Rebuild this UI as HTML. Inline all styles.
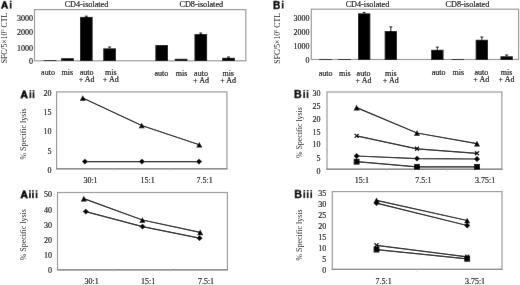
<!DOCTYPE html>
<html><head><meta charset="utf-8"><title>Figure</title>
<style>
html,body{margin:0;padding:0;background:#fff;}
body{width:520px;height:285px;overflow:hidden;font-family:"Liberation Serif",serif;}
svg{display:block;}
</style></head>
<body>
<svg width="520" height="285" viewBox="0 0 520 285">
<defs><filter id="bl" x="0" y="0" width="520" height="285" filterUnits="userSpaceOnUse"><feConvolveMatrix order="3" kernelMatrix="0 1 0 1 24 1 0 1 0" edgeMode="duplicate"/></filter></defs>
<g filter="url(#bl)">
<rect x="0" y="0" width="520" height="285" fill="#fff"/>
<path d="M1.04,8.50L3.66,1.18L5.50,1.18L8.12,8.50L6.25,8.50L5.78,6.97L3.39,6.97L2.91,8.50ZM3.86,5.64L5.31,5.64L4.58,3.40Z" fill="#000" fill-rule="evenodd" stroke="#000" stroke-width="0.3" stroke-linejoin="round"/>
<rect x="9.8" y="0.7" width="1.7" height="1.3" fill="#000"/>
<rect x="9.8" y="2.7" width="1.7" height="5.8" fill="#000"/>
<text x="273.1" y="8.5" font-size="10.2" text-anchor="start" font-family='"Liberation Sans", sans-serif' font-weight="bold" fill="#000" stroke="#000" stroke-width="0.35" >B</text>
<rect x="281.8" y="0.7" width="1.7" height="1.3" fill="#000"/>
<rect x="281.8" y="2.7" width="1.7" height="5.8" fill="#000"/>
<path d="M20.45,98.30L23.20,90.62L25.13,90.62L27.88,98.30L25.92,98.30L25.41,96.69L22.91,96.69L22.41,98.30ZM23.40,95.30L24.92,95.30L24.16,92.95Z" fill="#000" fill-rule="evenodd" stroke="#000" stroke-width="0.3" stroke-linejoin="round"/>
<rect x="29.55" y="90.1" width="1.7" height="1.4" fill="#000"/>
<rect x="29.55" y="92.3" width="1.7" height="5.9" fill="#000"/>
<rect x="32.65" y="90.1" width="1.7" height="1.4" fill="#000"/>
<rect x="32.65" y="92.3" width="1.7" height="5.9" fill="#000"/>
<path d="M20.45,198.30L23.20,190.62L25.13,190.62L27.88,198.30L25.92,198.30L25.41,196.70L22.91,196.70L22.41,198.30ZM23.40,195.30L24.92,195.30L24.16,192.95Z" fill="#000" fill-rule="evenodd" stroke="#000" stroke-width="0.3" stroke-linejoin="round"/>
<rect x="29.1" y="190.2" width="1.7" height="1.4" fill="#000"/>
<rect x="29.1" y="192.5" width="1.7" height="5.7" fill="#000"/>
<rect x="32.1" y="190.2" width="1.7" height="1.4" fill="#000"/>
<rect x="32.1" y="192.5" width="1.7" height="5.7" fill="#000"/>
<rect x="35.7" y="190.2" width="1.7" height="1.4" fill="#000"/>
<rect x="35.7" y="192.5" width="1.7" height="5.7" fill="#000"/>
<text x="294.1" y="98.1" font-size="10.7" text-anchor="start" font-family='"Liberation Sans", sans-serif' font-weight="bold" fill="#000" stroke="#000" stroke-width="0.35" >B</text>
<rect x="303.35" y="89.9" width="1.7" height="1.4" fill="#000"/>
<rect x="303.35" y="92.1" width="1.7" height="6.0" fill="#000"/>
<rect x="306.65" y="89.9" width="1.7" height="1.4" fill="#000"/>
<rect x="306.65" y="92.1" width="1.7" height="6.0" fill="#000"/>
<text x="294.3" y="198.2" font-size="10.7" text-anchor="start" font-family='"Liberation Sans", sans-serif' font-weight="bold" fill="#000" stroke="#000" stroke-width="0.35" >B</text>
<rect x="303.45" y="190.0" width="1.7" height="1.4" fill="#000"/>
<rect x="303.45" y="192.3" width="1.7" height="5.8" fill="#000"/>
<rect x="306.8" y="190.0" width="1.7" height="1.4" fill="#000"/>
<rect x="306.8" y="192.3" width="1.7" height="5.8" fill="#000"/>
<rect x="310.4" y="190.0" width="1.7" height="1.4" fill="#000"/>
<rect x="310.4" y="192.3" width="1.7" height="5.8" fill="#000"/>
<rect x="34.5" y="9.6" width="211.3" height="51.199999999999996" fill="none" stroke="#9a9a9a" stroke-width="1.2"/>
<text x="86.5" y="6.6" font-size="8.2" text-anchor="middle" font-family='"Liberation Serif", serif' font-weight="normal" fill="#000" stroke="#000" stroke-width="0.15" >CD4-isolated</text>
<text x="201.3" y="6.6" font-size="8.2" text-anchor="middle" font-family='"Liberation Serif", serif' font-weight="normal" fill="#000" stroke="#000" stroke-width="0.15" >CD8-isolated</text>
<text x="32.9" y="20.75" font-size="8" text-anchor="end" font-family='"Liberation Serif", serif' font-weight="normal" fill="#000" stroke="#000" stroke-width="0.15" >3000</text>
<text x="32.9" y="35.0" font-size="8" text-anchor="end" font-family='"Liberation Serif", serif' font-weight="normal" fill="#000" stroke="#000" stroke-width="0.15" >2000</text>
<text x="32.9" y="51.0" font-size="8" text-anchor="end" font-family='"Liberation Serif", serif' font-weight="normal" fill="#000" stroke="#000" stroke-width="0.15" >1000</text>
<text x="32.9" y="63.5" font-size="8" text-anchor="end" font-family='"Liberation Serif", serif' font-weight="normal" fill="#000" stroke="#000" stroke-width="0.15" >0</text>
<text transform="translate(6.6,38.1) rotate(-90)" x="0" y="0" font-size="7.8" text-anchor="middle" font-family='"Liberation Serif", serif' fill="#000" stroke="#000" stroke-width="0" textLength="50.5" lengthAdjust="spacingAndGlyphs">SFC/5×10<tspan font-size="4.5" dy="-2.5">5</tspan><tspan dy="2.5"> CTL</tspan></text>
<rect x="43.7" y="60.1" width="12.6" height="0.8999999999999986" fill="#000"/>
<rect x="61.2" y="58.2" width="12.6" height="2.799999999999997" fill="#000"/>
<rect x="80.0" y="16.9" width="12.6" height="44.1" fill="#000"/>
<line x1="86.3" y1="16.2" x2="86.3" y2="16.9" stroke="#000" stroke-width="0.9"/>
<line x1="84.8" y1="16.2" x2="87.8" y2="16.2" stroke="#000" stroke-width="0.9"/>
<rect x="103.3" y="48.4" width="12.6" height="12.600000000000001" fill="#000"/>
<line x1="109.6" y1="47.0" x2="109.6" y2="48.4" stroke="#000" stroke-width="0.9"/>
<line x1="108.1" y1="47.0" x2="111.1" y2="47.0" stroke="#000" stroke-width="0.9"/>
<rect x="155.4" y="45.0" width="12.6" height="16.0" fill="#000"/>
<rect x="174.8" y="58.8" width="12.6" height="2.200000000000003" fill="#000"/>
<rect x="194.5" y="34.0" width="12.6" height="27.0" fill="#000"/>
<line x1="200.8" y1="33.0" x2="200.8" y2="34.0" stroke="#000" stroke-width="0.9"/>
<line x1="199.3" y1="33.0" x2="202.3" y2="33.0" stroke="#000" stroke-width="0.9"/>
<rect x="222.2" y="57.8" width="12.6" height="3.200000000000003" fill="#000"/>
<line x1="228.5" y1="57.0" x2="228.5" y2="57.8" stroke="#000" stroke-width="0.9"/>
<line x1="227.0" y1="57.0" x2="230.0" y2="57.0" stroke="#000" stroke-width="0.9"/>
<text x="48.0" y="75" font-size="8" text-anchor="middle" font-family='"Liberation Serif", serif' font-weight="normal" fill="#000" stroke="#000" stroke-width="0.15" >auto</text>
<text x="67.3" y="75" font-size="8" text-anchor="middle" font-family='"Liberation Serif", serif' font-weight="normal" fill="#000" stroke="#000" stroke-width="0.15" >mis</text>
<text x="86.6" y="75" font-size="8" text-anchor="middle" font-family='"Liberation Serif", serif' font-weight="normal" fill="#000" stroke="#000" stroke-width="0.15" >auto</text>
<text x="86.6" y="82" font-size="8" text-anchor="middle" font-family='"Liberation Serif", serif' font-weight="normal" fill="#000" stroke="#000" stroke-width="0.15" >+ Ad</text>
<text x="110.8" y="75" font-size="8" text-anchor="middle" font-family='"Liberation Serif", serif' font-weight="normal" fill="#000" stroke="#000" stroke-width="0.15" >mis</text>
<text x="110.8" y="82" font-size="8" text-anchor="middle" font-family='"Liberation Serif", serif' font-weight="normal" fill="#000" stroke="#000" stroke-width="0.15" >+ Ad</text>
<text x="161.4" y="76" font-size="8" text-anchor="middle" font-family='"Liberation Serif", serif' font-weight="normal" fill="#000" stroke="#000" stroke-width="0.15" >auto</text>
<text x="181.5" y="76" font-size="8" text-anchor="middle" font-family='"Liberation Serif", serif' font-weight="normal" fill="#000" stroke="#000" stroke-width="0.15" >mis</text>
<text x="201.0" y="76" font-size="8" text-anchor="middle" font-family='"Liberation Serif", serif' font-weight="normal" fill="#000" stroke="#000" stroke-width="0.15" >auto</text>
<text x="201.0" y="83" font-size="8" text-anchor="middle" font-family='"Liberation Serif", serif' font-weight="normal" fill="#000" stroke="#000" stroke-width="0.15" >+ Ad</text>
<text x="228.2" y="76" font-size="8" text-anchor="middle" font-family='"Liberation Serif", serif' font-weight="normal" fill="#000" stroke="#000" stroke-width="0.15" >mis</text>
<text x="228.2" y="83" font-size="8" text-anchor="middle" font-family='"Liberation Serif", serif' font-weight="normal" fill="#000" stroke="#000" stroke-width="0.15" >+ Ad</text>
<rect x="311.3" y="9.2" width="207.3" height="50.3" fill="none" stroke="#9a9a9a" stroke-width="1.2"/>
<text x="367.5" y="6.8" font-size="8.2" text-anchor="middle" font-family='"Liberation Serif", serif' font-weight="normal" fill="#000" stroke="#000" stroke-width="0.15" >CD4-isolated</text>
<text x="467.4" y="6.8" font-size="8.2" text-anchor="middle" font-family='"Liberation Serif", serif' font-weight="normal" fill="#000" stroke="#000" stroke-width="0.15" >CD8-isolated</text>
<text x="309.4" y="20.5" font-size="8" text-anchor="end" font-family='"Liberation Serif", serif' font-weight="normal" fill="#000" stroke="#000" stroke-width="0.15" >3000</text>
<text x="309.4" y="34.8" font-size="8" text-anchor="end" font-family='"Liberation Serif", serif' font-weight="normal" fill="#000" stroke="#000" stroke-width="0.15" >2000</text>
<text x="309.4" y="48.7" font-size="8" text-anchor="end" font-family='"Liberation Serif", serif' font-weight="normal" fill="#000" stroke="#000" stroke-width="0.15" >1000</text>
<text x="309.4" y="63.0" font-size="8" text-anchor="end" font-family='"Liberation Serif", serif' font-weight="normal" fill="#000" stroke="#000" stroke-width="0.15" >0</text>
<text transform="translate(279.9,38.4) rotate(-90)" x="0" y="0" font-size="7.8" text-anchor="middle" font-family='"Liberation Serif", serif' fill="#000" stroke="#000" stroke-width="0" textLength="50.5" lengthAdjust="spacingAndGlyphs">SFC/5×10<tspan font-size="4.5" dy="-2.5">5</tspan><tspan dy="2.5"> CTL</tspan></text>
<rect x="319.4" y="59.0" width="12.3" height="1.0" fill="#000"/>
<rect x="338.4" y="59.0" width="12.3" height="1.0" fill="#000"/>
<rect x="358.0" y="13.4" width="12.3" height="46.6" fill="#000"/>
<line x1="364.15" y1="12.4" x2="364.15" y2="13.4" stroke="#000" stroke-width="0.9"/>
<line x1="362.65" y1="12.4" x2="365.65" y2="12.4" stroke="#000" stroke-width="0.9"/>
<rect x="384.7" y="31.0" width="12.3" height="29.0" fill="#000"/>
<line x1="390.84999999999997" y1="26.9" x2="390.84999999999997" y2="31.0" stroke="#000" stroke-width="0.9"/>
<line x1="389.34999999999997" y1="26.9" x2="392.34999999999997" y2="26.9" stroke="#000" stroke-width="0.9"/>
<rect x="431.2" y="49.8" width="12.3" height="10.200000000000003" fill="#000"/>
<line x1="437.34999999999997" y1="47.1" x2="437.34999999999997" y2="49.8" stroke="#000" stroke-width="0.9"/>
<line x1="435.84999999999997" y1="47.1" x2="438.84999999999997" y2="47.1" stroke="#000" stroke-width="0.9"/>
<rect x="451.7" y="59.0" width="12.3" height="1.0" fill="#000"/>
<rect x="475.7" y="39.8" width="12.3" height="20.200000000000003" fill="#000"/>
<line x1="481.84999999999997" y1="37.0" x2="481.84999999999997" y2="39.8" stroke="#000" stroke-width="0.9"/>
<line x1="480.34999999999997" y1="37.0" x2="483.34999999999997" y2="37.0" stroke="#000" stroke-width="0.9"/>
<rect x="500.5" y="56.3" width="12.3" height="3.700000000000003" fill="#000"/>
<line x1="506.65" y1="55.0" x2="506.65" y2="56.3" stroke="#000" stroke-width="0.9"/>
<line x1="505.15" y1="55.0" x2="508.15" y2="55.0" stroke="#000" stroke-width="0.9"/>
<text x="325.7" y="76" font-size="8" text-anchor="middle" font-family='"Liberation Serif", serif' font-weight="normal" fill="#000" stroke="#000" stroke-width="0.15" >auto</text>
<text x="344.9" y="76" font-size="8" text-anchor="middle" font-family='"Liberation Serif", serif' font-weight="normal" fill="#000" stroke="#000" stroke-width="0.15" >mis</text>
<text x="363.5" y="76" font-size="8" text-anchor="middle" font-family='"Liberation Serif", serif' font-weight="normal" fill="#000" stroke="#000" stroke-width="0.15" >auto</text>
<text x="363.5" y="83" font-size="8" text-anchor="middle" font-family='"Liberation Serif", serif' font-weight="normal" fill="#000" stroke="#000" stroke-width="0.15" >+ Ad</text>
<text x="390.8" y="76" font-size="8" text-anchor="middle" font-family='"Liberation Serif", serif' font-weight="normal" fill="#000" stroke="#000" stroke-width="0.15" >mis</text>
<text x="390.8" y="83" font-size="8" text-anchor="middle" font-family='"Liberation Serif", serif' font-weight="normal" fill="#000" stroke="#000" stroke-width="0.15" >+ Ad</text>
<text x="438.7" y="75" font-size="8" text-anchor="middle" font-family='"Liberation Serif", serif' font-weight="normal" fill="#000" stroke="#000" stroke-width="0.15" >auto</text>
<text x="458.4" y="75" font-size="8" text-anchor="middle" font-family='"Liberation Serif", serif' font-weight="normal" fill="#000" stroke="#000" stroke-width="0.15" >mis</text>
<text x="481.3" y="75" font-size="8" text-anchor="middle" font-family='"Liberation Serif", serif' font-weight="normal" fill="#000" stroke="#000" stroke-width="0.15" >auto</text>
<text x="481.3" y="82" font-size="8" text-anchor="middle" font-family='"Liberation Serif", serif' font-weight="normal" fill="#000" stroke="#000" stroke-width="0.15" >+ Ad</text>
<text x="506.5" y="75" font-size="8" text-anchor="middle" font-family='"Liberation Serif", serif' font-weight="normal" fill="#000" stroke="#000" stroke-width="0.15" >mis</text>
<text x="506.5" y="82" font-size="8" text-anchor="middle" font-family='"Liberation Serif", serif' font-weight="normal" fill="#000" stroke="#000" stroke-width="0.15" >+ Ad</text>
<rect x="56.6" y="91.9" width="170.3" height="76.79999999999998" fill="none" stroke="#9a9a9a" stroke-width="1.2"/>
<line x1="56.0" y1="168.8" x2="227.5" y2="168.8" stroke="#8c8c8c" stroke-width="1.4"/>
<text x="51.5" y="95.7" font-size="8" text-anchor="end" font-family='"Liberation Serif", serif' font-weight="normal" fill="#000" stroke="#000" stroke-width="0.15" >20</text>
<text x="51.5" y="114.7" font-size="8" text-anchor="end" font-family='"Liberation Serif", serif' font-weight="normal" fill="#000" stroke="#000" stroke-width="0.15" >15</text>
<text x="51.5" y="133.9" font-size="8" text-anchor="end" font-family='"Liberation Serif", serif' font-weight="normal" fill="#000" stroke="#000" stroke-width="0.15" >10</text>
<text x="51.5" y="153.7" font-size="8" text-anchor="end" font-family='"Liberation Serif", serif' font-weight="normal" fill="#000" stroke="#000" stroke-width="0.15" >5</text>
<text x="51.5" y="172.5" font-size="8" text-anchor="end" font-family='"Liberation Serif", serif' font-weight="normal" fill="#000" stroke="#000" stroke-width="0.15" >0</text>
<text transform="translate(25.5,134.0) rotate(-90)" x="0" y="0" font-size="7.4" text-anchor="middle" font-family='"Liberation Serif", serif' fill="#222" stroke="#222" stroke-width="0" textLength="51" lengthAdjust="spacingAndGlyphs">% Specific lysis</text>
<line x1="113.5" y1="168.7" x2="113.5" y2="171" stroke="#d0d0d0" stroke-width="0.8"/>
<line x1="170.1" y1="168.7" x2="170.1" y2="171" stroke="#d0d0d0" stroke-width="0.8"/>
<text x="90.5" y="183" font-size="8" text-anchor="middle" font-family='"Liberation Serif", serif' font-weight="normal" fill="#000" stroke="#000" stroke-width="0.15" >30:1</text>
<text x="147.7" y="183" font-size="8" text-anchor="middle" font-family='"Liberation Serif", serif' font-weight="normal" fill="#000" stroke="#000" stroke-width="0.15" >15:1</text>
<text x="204.7" y="183" font-size="8" text-anchor="middle" font-family='"Liberation Serif", serif' font-weight="normal" fill="#000" stroke="#000" stroke-width="0.15" >7.5:1</text>
<polyline points="82.8,98.0 141.7,125.5 199.3,144.8" fill="none" stroke="#000" stroke-width="1.2"/>
<polyline points="84.9,161.6 141.9,161.6 199.0,161.6" fill="none" stroke="#000" stroke-width="1.2"/>
<polygon points="79.8,100.8 85.8,100.8 82.8,95.2" fill="#000"/>
<polygon points="138.7,128.3 144.7,128.3 141.7,122.7" fill="#000"/>
<polygon points="196.3,147.60000000000002 202.3,147.60000000000002 199.3,142.0" fill="#000"/>
<polygon points="81.9,161.6 84.9,158.7 87.9,161.6 84.9,164.5" fill="#000"/>
<polygon points="138.9,161.6 141.9,158.7 144.9,161.6 141.9,164.5" fill="#000"/>
<polygon points="196.0,161.6 199.0,158.7 202.0,161.6 199.0,164.5" fill="#000"/>
<rect x="57.5" y="192.5" width="169.9" height="77.30000000000001" fill="none" stroke="#9a9a9a" stroke-width="1.2"/>
<line x1="56.9" y1="269.8" x2="228.0" y2="269.8" stroke="#8c8c8c" stroke-width="1.4"/>
<text x="52.0" y="197.1" font-size="8" text-anchor="end" font-family='"Liberation Serif", serif' font-weight="normal" fill="#000" stroke="#000" stroke-width="0.15" >50</text>
<text x="52.0" y="212.7" font-size="8" text-anchor="end" font-family='"Liberation Serif", serif' font-weight="normal" fill="#000" stroke="#000" stroke-width="0.15" >40</text>
<text x="52.0" y="227.5" font-size="8" text-anchor="end" font-family='"Liberation Serif", serif' font-weight="normal" fill="#000" stroke="#000" stroke-width="0.15" >30</text>
<text x="52.0" y="242.5" font-size="8" text-anchor="end" font-family='"Liberation Serif", serif' font-weight="normal" fill="#000" stroke="#000" stroke-width="0.15" >20</text>
<text x="52.0" y="257.5" font-size="8" text-anchor="end" font-family='"Liberation Serif", serif' font-weight="normal" fill="#000" stroke="#000" stroke-width="0.15" >10</text>
<text x="52.0" y="272.9" font-size="8" text-anchor="end" font-family='"Liberation Serif", serif' font-weight="normal" fill="#000" stroke="#000" stroke-width="0.15" >0</text>
<text transform="translate(25.9,234.7) rotate(-90)" x="0" y="0" font-size="7.4" text-anchor="middle" font-family='"Liberation Serif", serif' fill="#222" stroke="#222" stroke-width="0" textLength="51" lengthAdjust="spacingAndGlyphs">% Specific lysis</text>
<line x1="114.0" y1="269.8" x2="114.0" y2="272" stroke="#d0d0d0" stroke-width="0.8"/>
<line x1="170.7" y1="269.8" x2="170.7" y2="272" stroke="#d0d0d0" stroke-width="0.8"/>
<text x="91.6" y="284" font-size="8" text-anchor="middle" font-family='"Liberation Serif", serif' font-weight="normal" fill="#000" stroke="#000" stroke-width="0.15" >30:1</text>
<text x="148.1" y="284" font-size="8" text-anchor="middle" font-family='"Liberation Serif", serif' font-weight="normal" fill="#000" stroke="#000" stroke-width="0.15" >15:1</text>
<text x="206.0" y="284" font-size="8" text-anchor="middle" font-family='"Liberation Serif", serif' font-weight="normal" fill="#000" stroke="#000" stroke-width="0.15" >7.5:1</text>
<polyline points="83.8,198.6 142.4,220.0 200.2,232.4" fill="none" stroke="#000" stroke-width="1.2"/>
<polyline points="85.8,211.6 142.5,226.6 199.5,238.2" fill="none" stroke="#000" stroke-width="1.2"/>
<polygon points="80.8,201.4 86.8,201.4 83.8,195.79999999999998" fill="#000"/>
<polygon points="139.4,222.8 145.4,222.8 142.4,217.2" fill="#000"/>
<polygon points="197.2,235.20000000000002 203.2,235.20000000000002 200.2,229.6" fill="#000"/>
<polygon points="82.8,211.6 85.8,208.7 88.8,211.6 85.8,214.5" fill="#000"/>
<polygon points="139.5,226.6 142.5,223.7 145.5,226.6 142.5,229.5" fill="#000"/>
<polygon points="196.5,238.2 199.5,235.29999999999998 202.5,238.2 199.5,241.1" fill="#000"/>
<rect x="327.0" y="92.0" width="174.89999999999998" height="77.30000000000001" fill="none" stroke="#9a9a9a" stroke-width="1.2"/>
<line x1="326.4" y1="169.3" x2="502.5" y2="169.3" stroke="#8c8c8c" stroke-width="1.4"/>
<text x="320.5" y="95.6" font-size="8" text-anchor="end" font-family='"Liberation Serif", serif' font-weight="normal" fill="#000" stroke="#000" stroke-width="0.15" >30</text>
<text x="320.5" y="109.1" font-size="8" text-anchor="end" font-family='"Liberation Serif", serif' font-weight="normal" fill="#000" stroke="#000" stroke-width="0.15" >25</text>
<text x="320.5" y="121.6" font-size="8" text-anchor="end" font-family='"Liberation Serif", serif' font-weight="normal" fill="#000" stroke="#000" stroke-width="0.15" >20</text>
<text x="320.5" y="135.1" font-size="8" text-anchor="end" font-family='"Liberation Serif", serif' font-weight="normal" fill="#000" stroke="#000" stroke-width="0.15" >15</text>
<text x="320.5" y="146.8" font-size="8" text-anchor="end" font-family='"Liberation Serif", serif' font-weight="normal" fill="#000" stroke="#000" stroke-width="0.15" >10</text>
<text x="320.5" y="160.5" font-size="8" text-anchor="end" font-family='"Liberation Serif", serif' font-weight="normal" fill="#000" stroke="#000" stroke-width="0.15" >5</text>
<text x="320.5" y="173.6" font-size="8" text-anchor="end" font-family='"Liberation Serif", serif' font-weight="normal" fill="#000" stroke="#000" stroke-width="0.15" >0</text>
<text transform="translate(301.5,132.6) rotate(-90)" x="0" y="0" font-size="7.4" text-anchor="middle" font-family='"Liberation Serif", serif' fill="#222" stroke="#222" stroke-width="0" textLength="51" lengthAdjust="spacingAndGlyphs">% Specific lysis</text>
<line x1="386.7" y1="169.3" x2="386.7" y2="171.5" stroke="#d0d0d0" stroke-width="0.8"/>
<line x1="447.2" y1="169.3" x2="447.2" y2="171.5" stroke="#d0d0d0" stroke-width="0.8"/>
<text x="361.8" y="183.0" font-size="8" text-anchor="middle" font-family='"Liberation Serif", serif' font-weight="normal" fill="#000" stroke="#000" stroke-width="0.15" >15:1</text>
<text x="423.3" y="183.0" font-size="8" text-anchor="middle" font-family='"Liberation Serif", serif' font-weight="normal" fill="#000" stroke="#000" stroke-width="0.15" >7.5:1</text>
<text x="485.2" y="183.0" font-size="8" text-anchor="middle" font-family='"Liberation Serif", serif' font-weight="normal" fill="#000" stroke="#000" stroke-width="0.15" >3.75:1</text>
<polyline points="356.6,107.6 417.0,133.0 477.0,143.6" fill="none" stroke="#000" stroke-width="1.2"/>
<polyline points="356.6,135.9 417.0,148.8 477.0,153.3" fill="none" stroke="#000" stroke-width="1.2"/>
<polyline points="356.6,156.0 417.0,158.6 477.0,159.0" fill="none" stroke="#000" stroke-width="1.2"/>
<polyline points="356.6,161.7 417.0,166.8 477.0,166.8" fill="none" stroke="#000" stroke-width="1.2"/>
<polygon points="353.6,110.39999999999999 359.6,110.39999999999999 356.6,104.8" fill="#000"/>
<polygon points="414.0,135.8 420.0,135.8 417.0,130.2" fill="#000"/>
<polygon points="474.0,146.4 480.0,146.4 477.0,140.79999999999998" fill="#000"/>
<path d="M354.6,133.9L358.6,137.9M358.6,133.9L354.6,137.9" stroke="#000" stroke-width="1.3"/>
<path d="M415.0,146.8L419.0,150.8M419.0,146.8L415.0,150.8" stroke="#000" stroke-width="1.3"/>
<path d="M475.0,151.3L479.0,155.3M479.0,151.3L475.0,155.3" stroke="#000" stroke-width="1.3"/>
<polygon points="353.6,156.0 356.6,153.1 359.6,156.0 356.6,158.9" fill="#000"/>
<polygon points="414.0,158.6 417.0,155.7 420.0,158.6 417.0,161.5" fill="#000"/>
<polygon points="474.0,159.0 477.0,156.1 480.0,159.0 477.0,161.9" fill="#000"/>
<rect x="353.70000000000005" y="158.79999999999998" width="5.8" height="5.8" fill="#000"/>
<rect x="414.1" y="163.9" width="5.8" height="5.8" fill="#000"/>
<rect x="474.1" y="163.9" width="5.8" height="5.8" fill="#000"/>
<rect x="332.3" y="191.6" width="169.7" height="77.79999999999998" fill="none" stroke="#9a9a9a" stroke-width="1.2"/>
<line x1="331.7" y1="269.4" x2="502.6" y2="269.4" stroke="#8c8c8c" stroke-width="1.4"/>
<text x="326.3" y="195.5" font-size="8" text-anchor="end" font-family='"Liberation Serif", serif' font-weight="normal" fill="#000" stroke="#000" stroke-width="0.15" >35</text>
<text x="326.3" y="207.1" font-size="8" text-anchor="end" font-family='"Liberation Serif", serif' font-weight="normal" fill="#000" stroke="#000" stroke-width="0.15" >30</text>
<text x="326.3" y="217.5" font-size="8" text-anchor="end" font-family='"Liberation Serif", serif' font-weight="normal" fill="#000" stroke="#000" stroke-width="0.15" >25</text>
<text x="326.3" y="228.5" font-size="8" text-anchor="end" font-family='"Liberation Serif", serif' font-weight="normal" fill="#000" stroke="#000" stroke-width="0.15" >20</text>
<text x="326.3" y="239.5" font-size="8" text-anchor="end" font-family='"Liberation Serif", serif' font-weight="normal" fill="#000" stroke="#000" stroke-width="0.15" >15</text>
<text x="326.3" y="250.7" font-size="8" text-anchor="end" font-family='"Liberation Serif", serif' font-weight="normal" fill="#000" stroke="#000" stroke-width="0.15" >10</text>
<text x="326.3" y="262.0" font-size="8" text-anchor="end" font-family='"Liberation Serif", serif' font-weight="normal" fill="#000" stroke="#000" stroke-width="0.15" >5</text>
<text x="326.3" y="272.8" font-size="8" text-anchor="end" font-family='"Liberation Serif", serif' font-weight="normal" fill="#000" stroke="#000" stroke-width="0.15" >0</text>
<text transform="translate(301.7,235.0) rotate(-90)" x="0" y="0" font-size="7.4" text-anchor="middle" font-family='"Liberation Serif", serif' fill="#222" stroke="#222" stroke-width="0" textLength="51" lengthAdjust="spacingAndGlyphs">% Specific lysis</text>
<line x1="417.1" y1="269.4" x2="417.1" y2="271.5" stroke="#d0d0d0" stroke-width="0.8"/>
<text x="383.7" y="284" font-size="8" text-anchor="middle" font-family='"Liberation Serif", serif' font-weight="normal" fill="#000" stroke="#000" stroke-width="0.15" >7.5:1</text>
<text x="475.0" y="284" font-size="8" text-anchor="middle" font-family='"Liberation Serif", serif' font-weight="normal" fill="#000" stroke="#000" stroke-width="0.15" >3.75:1</text>
<polyline points="376.5,200.3 467.2,220.5" fill="none" stroke="#000" stroke-width="1.2"/>
<polyline points="376.5,203.2 467.2,225.5" fill="none" stroke="#000" stroke-width="1.2"/>
<polyline points="376.5,245.3 467.2,256.8" fill="none" stroke="#000" stroke-width="1.2"/>
<polyline points="376.5,249.6 467.2,258.8" fill="none" stroke="#000" stroke-width="1.2"/>
<path d="M374.5,243.3L378.5,247.3M378.5,243.3L374.5,247.3" stroke="#000" stroke-width="1.3"/>
<path d="M465.2,254.8L469.2,258.8M469.2,254.8L465.2,258.8" stroke="#000" stroke-width="1.3"/>
<rect x="373.6" y="246.7" width="5.8" height="5.8" fill="#000"/>
<rect x="464.3" y="255.9" width="5.8" height="5.8" fill="#000"/>
<polygon points="373.5,203.2 376.5,200.29999999999998 379.5,203.2 376.5,206.1" fill="#000"/>
<polygon points="464.2,225.5 467.2,222.6 470.2,225.5 467.2,228.4" fill="#000"/>
<polygon points="373.5,203.10000000000002 379.5,203.10000000000002 376.5,197.5" fill="#000"/>
<polygon points="464.2,223.3 470.2,223.3 467.2,217.7" fill="#000"/>
</g>
</svg>
</body></html>
